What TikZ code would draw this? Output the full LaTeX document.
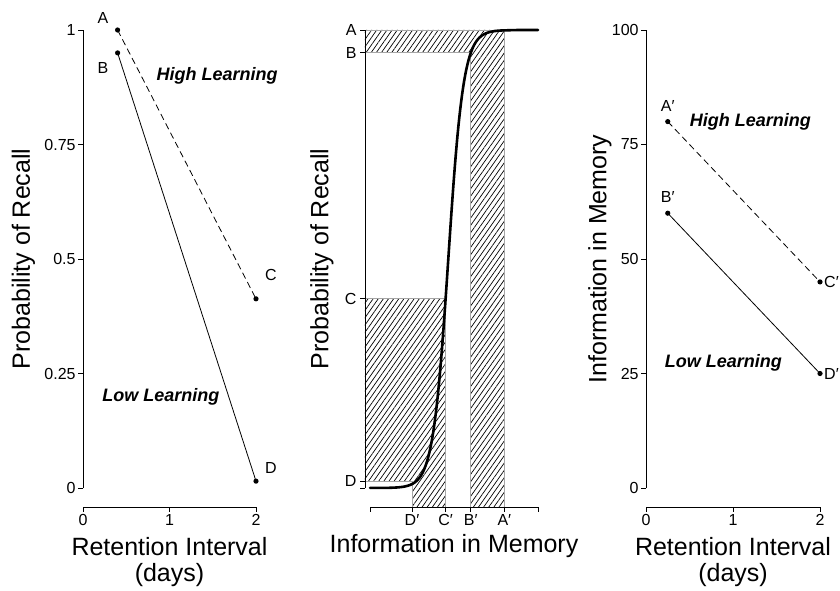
\documentclass[tikz,border=0pt]{standalone}
\usepackage{fontspec}
\setmainfont{Liberation Sans}
\usepackage{tikz}
\usetikzlibrary{patterns.meta}

\tikzset{
  axlabel/.style={font=\fontsize{25}{26}\selectfont, align=center},
  ticklabel/.style={font=\fontsize{16}{18}\selectfont, inner sep=2pt},
  ptlabel/.style={font=\fontsize{16}{18}\selectfont, inner sep=0pt},
  grouplabel/.style={font=\fontsize{18}{20}\selectfont\bfseries\itshape},
  axisline/.style={line width=0.9pt},
  dataline/.style={line width=0.8pt},
  hatched/.style={draw=gray!70, line width=0.8pt,
    pattern={Lines[angle=55,distance=4.2pt,line width=0.7pt]}, pattern color=black},
}

\begin{document}
\begin{tikzpicture}[x=1pt,y=1pt]
                \useasboundingbox (0,0) rectangle (840,590);

                % left panel: recall over retention interval
                \begin{scope}[shift={(83pt,102pt)}, x=86.5pt, y=458pt]
                    \draw[axisline] (0,0) -- (0,1);
                    \foreach \y [count=\i] in {0,0.25,0.5,0.75,1}
                    \draw[axisline] (0,\y) -- ++(-5pt,0) node[ticklabel,left] (ytickL\i) {\y};
                    \draw[axisline] (0,-0.0415) -- (2,-0.0415);
                    \foreach \x in {0,1,2}
                    \draw[axisline] (\x,-0.0415) -- ++(0,-5pt) node[ticklabel,below] (xtickL\x) {\x};
                    \node[axlabel] (xlabL) at (1,-0.1616) {Retention Interval\\(days)};
                    \node[axlabel, rotate=90] (ylabL) at (-0.69,0.5) {Probability of Recall};

                    % points
                    \coordinate (A) at (0.4,1);
                    \coordinate (B) at (0.4,0.95);
                    \coordinate (C) at (2,0.413);
                    \coordinate (D) at (2,0.015);
                    \draw[dataline, dash pattern=on 6.5pt off 4pt] (A) -- (C);
                    \draw[dataline] (B) -- (D);
                    \foreach \p in {A,B,C,D}
                    \fill (\p) circle (2.6pt);
                    \node[ptlabel, xshift=-14.6pt, yshift=12pt] (labA) at (A) {A};
                    \node[ptlabel, xshift=-14.6pt, yshift=-15pt] (labB) at (B) {B};
                    \node[ptlabel, xshift=14.8pt, yshift=23.5pt] (labC) at (C) {C};
                    \node[ptlabel, xshift=14.8pt, yshift=13.5pt] (labD) at (D) {D};

                    \node[grouplabel] (highL) at (1.55,0.9) {High Learning};
                    \node[grouplabel] (lowL) at (0.9,0.2) {Low Learning};
                \end{scope}

                % middle panel: recall against information in memory
                \begin{scope}[shift={(370pt,102pt)}, x=1.68pt, y=458pt]
                    %hatched areas
                    \draw[hatched] (-3,1) -- (80,1) -- (80,-0.0415) -- (60,-0.0415)
                        -- (60,0.95) -- (-3,0.95) -- cycle;
                    \draw[hatched] (-3,0.413) -- (45,0.413) -- (45,-0.0415) -- (25,-0.0415)
                        -- (25,0.015) -- (-3,0.015) -- cycle;

                    % axes
                    \draw[axisline] (-3,0) -- (-3,1);
                    \draw[axisline] (-3,0) -- ++(-5pt,0);
                    \foreach \y/\t in {1/A,0.95/B,0.413/C,0.015/D}
                    \draw[axisline] (-3,\y) -- ++(-5pt,0) node[ticklabel,left,inner sep=3pt] (ytickM\t) {\t};
                    \draw[axisline] (0,-0.0415) -- (100,-0.0415);
                    \foreach \x in {0,100}
                    \draw[axisline] (\x,-0.0415) -- ++(0,-5pt);
                    \foreach \x/\t in {25/D,45/C,60/B,80/A}
                    \draw[axisline] (\x,-0.0415) -- ++(0,-5pt) node[ticklabel,below] (xtickM\t) {\t′};
                    \node[axlabel] (xlabM) at (50,-0.127) {Information in Memory};
                    \node[axlabel, rotate=90] (ylabM) at (-28.6,0.5) {Probability of Recall};

                    %curve
                    \draw[line width=2.6pt, line cap=round] plot[domain=0:100, samples=200, smooth]
                        (\x, {1/(1+exp(min(9,-0.22*(\x-46.6))))});
                \end{scope}

                % right panel: information over retention interval
                \begin{scope}[shift={(646pt,102pt)}, x=87pt, y=4.58pt]
                    \draw[axisline] (0,0) -- (0,100);
                    \foreach \y in {0,25,50,75,100}
                    \draw[axisline] (0,\y) -- ++(-5pt,0) node[ticklabel,left] (ytickR\y) {\y};
                    \draw[axisline] (0,-4.15) -- (2,-4.15);
                    \foreach \x in {0,1,2}
                    \draw[axisline] (\x,-4.15) -- ++(0,-5pt) node[ticklabel,below] (xtickR\x) {\x};
                    \node[axlabel] (xlabR) at (1,-16.16) {Retention Interval\\(days)};
                    \node[axlabel, rotate=90] (ylabR) at (-0.53,50) {Information in Memory};

                    % points
                    \coordinate (Ap) at (0.25,80);
                    \coordinate (Bp) at (0.25,60);
                    \coordinate (Cp) at (2,45);
                    \coordinate (Dp) at (2,25);
                    \draw[dataline, dash pattern=on 6.5pt off 4pt] (Ap) -- (Cp);
                    \draw[dataline] (Bp) -- (Dp);
                    \foreach \p in {Ap,Bp,Cp,Dp}
                    \fill (\p) circle (2.6pt);
                    \node[ptlabel, yshift=16pt] (labAp) at (Ap) {A′};
                    \node[ptlabel, yshift=16pt] (labBp) at (Bp) {B′};
                    \node[ptlabel, anchor=west, xshift=4pt] (labCp) at (Cp) {C′};
                    \node[ptlabel, anchor=west, xshift=4pt] (labDp) at (Dp) {D′};

                    \node[grouplabel] (highR) at (1.2,80) {High Learning};
                    \node[grouplabel] (lowR) at (0.89,27.3) {Low Learning};
                \end{scope}

            \end{tikzpicture}
\end{document}
